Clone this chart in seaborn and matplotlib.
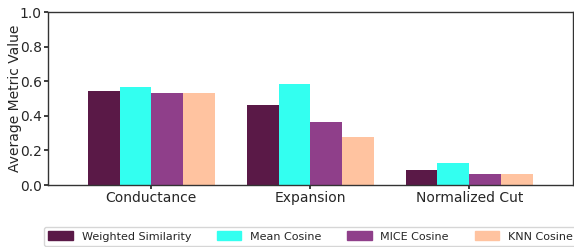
import matplotlib
matplotlib.use("Agg")
import matplotlib.pyplot as plt
import seaborn as sns
import pandas as pd

sns.set_theme(style="ticks")
plt.rcParams["font.family"] = ["DejaVu Sans"]

metrics = ["Conductance", "Expansion", "Normalized Cut"]
methods = ["Weighted Similarity", "Mean Cosine", "MICE Cosine", "KNN Cosine"]
weighted_similarity = [0.543, 0.462, 0.087]
mean_cosine = [0.566, 0.584, 0.127]
mice_cosine = [0.532, 0.364, 0.064]
knn_cosine = [0.532, 0.277, 0.064]
colors = ["#5a1947", "#33fff0", "#8f3f8a", "#ffc3a0"]

rows = []
for method, vals in zip(methods, [weighted_similarity, mean_cosine, mice_cosine, knn_cosine]):
    for metric, v in zip(metrics, vals):
        rows.append({"Metric": metric, "Method": method, "Value": v})
df = pd.DataFrame(rows)

fig = plt.figure(figsize=(5.74, 2.47), dpi=100)
ax = fig.add_axes([0.0836, 0.251, 0.914, 0.70])
sns.barplot(data=df, x="Metric", y="Value", hue="Method", hue_order=methods,
            palette=colors, width=0.8, saturation=1, linewidth=0, ax=ax, legend=False)

ax.set_xlim(-0.65, 2.65)
ax.set_ylim(0, 1.0)
ax.set_yticks([0, 0.2, 0.4, 0.6, 0.8, 1.0])
ax.set_xlabel("")
ax.set_ylabel("Average Metric Value", fontsize=10)
ax.yaxis.set_label_coords(-0.05, 0.5)
ax.tick_params(axis="both", labelsize=10, length=3, pad=1.5)
for s in ax.spines.values():
    s.set_color("#333333")
    s.set_linewidth(1.0)

# legend runs past the right edge in the reference, so it gets clipped
handles = [plt.Rectangle((0, 0), 1, 1, color=c) for c in colors]
fig.legend(handles, methods, loc="upper left", bbox_to_anchor=(0.0767, 0.081),
           ncol=4, fontsize=8, frameon=True, columnspacing=2.3,
           handlelength=2.2, handleheight=0.85, handletextpad=0.8,
           borderaxespad=0, fancybox=True)

fig.savefig("out.png", dpi=100)
